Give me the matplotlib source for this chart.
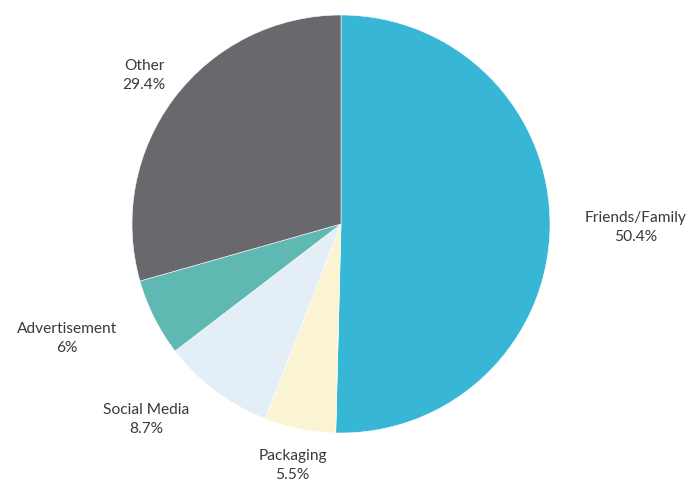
import numpy as np
from matplotlib import pyplot as plt

# share of responses by source
sources = ['Friends/Family', 'Packaging', 'Social Media', 'Advertisement', 'Other']
shares = [50.4, 5.5, 8.7, 6, 29.4]
share_labels = ['50.4%', '5.5%', '8.7%', '6%', '29.4%']

colors = ['#38b6d6', '#fbf4d2', '#e4eef6', '#5fb8b2', '#68686d']
label_dist = [1.41, 1.18, 1.32, 1.42, 1.18]   # radial offset of each label
label_shift = [0, 0, -8, -4, 0]                # small angular nudge (deg)

W, H = 697, 487
cx, cy, R = 341.0, 224.0, 209.0   # pie centre / radius in pixels

fig = plt.figure(figsize=(W / 100, H / 100), dpi=100)
ax = fig.add_axes([0, 0, 1, 1])

wedges, _ = ax.pie(shares, colors=colors, startangle=90, counterclock=False,
                   radius=1.0, wedgeprops=dict(linewidth=0.4, edgecolor='white'))

ax.set_xlim(-cx / R, (W - cx) / R)
ax.set_ylim(-(H - cy) / R, cy / R)
ax.set_aspect('auto')
ax.axis('off')

for w, name, lab, d, sh in zip(wedges, sources, share_labels, label_dist, label_shift):
    ang = np.deg2rad((w.theta1 + w.theta2) / 2 + sh)
    x = d * np.cos(ang)
    y = d * np.sin(ang)
    ax.text(x, y, name + '\n' + lab, ha='center', va='center', fontsize=11.2,
            family=['Lato', 'DejaVu Sans'], color='#3a3a3a', linespacing=1.45)

fig.savefig('out.png', dpi=100, facecolor='white')
